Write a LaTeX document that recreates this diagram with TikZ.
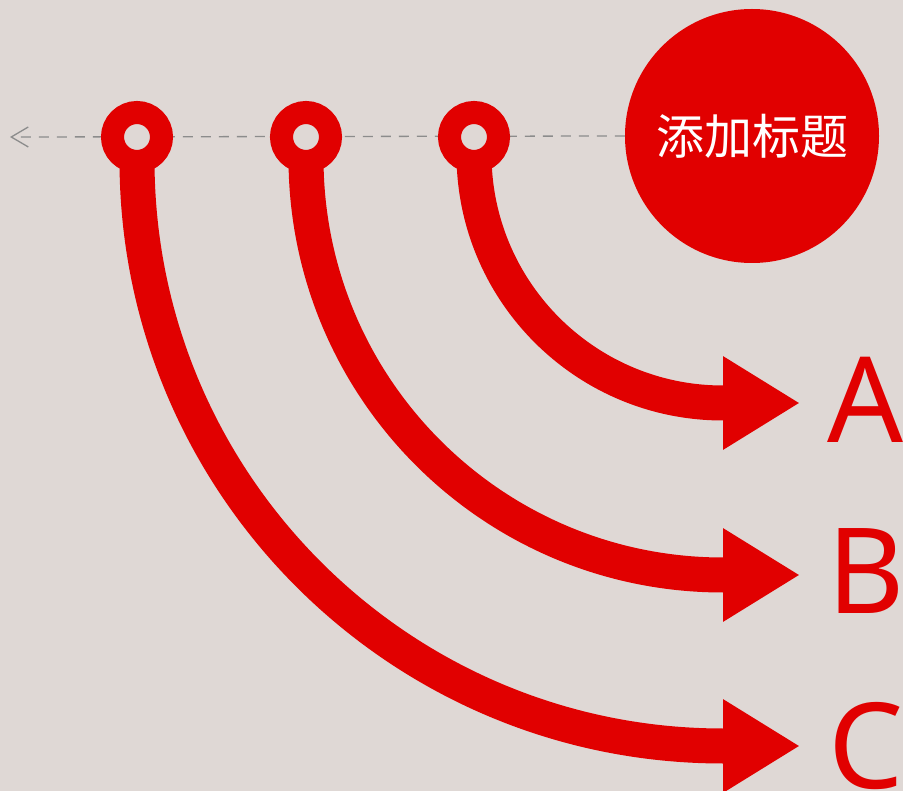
\documentclass[tikz,border=0pt]{standalone}
\usepackage{fontspec}
\newfontfamily\cjkfont{Noto Sans CJK SC}
\newfontfamily\letterfont{Noto Sans}
\usetikzlibrary{arrows.meta}
\definecolor{bgc}{HTML}{DFD8D5}
\definecolor{redc}{HTML}{E10000}
\definecolor{dashc}{HTML}{8C8C8C}
\pgfdeclarelayer{back}
\pgfsetlayers{back,main}
\tikzset{
  ring/.style={circle, draw=redc, line width=23pt, fill=bgc, inner sep=0pt, minimum size=49pt},
  shaft/.style={draw=redc, line width=35pt, -{Triangle[length=77pt,width=88pt]}},
  dashline/.style={draw=dashc, line width=1.3pt, dash pattern=on 10pt off 8pt, -{Straight Barb[length=17pt,width=20pt,line width=1.3pt]}},
  titlecircle/.style={circle, fill=redc, minimum size=254pt, inner sep=0pt, text=white, font=\cjkfont\fontsize{48}{48}\selectfont},
  letter/.style={anchor=base, inner sep=0pt, text=redc, font=\letterfont\fontsize{119}{119}\selectfont}
}
\begin{document}
\begin{tikzpicture}[x=1pt,y=-1pt]
\useasboundingbox (0,0) rectangle (903,791);
% title circle
\node[titlecircle] (title) at (752,136) {添加标题};
% rings
\node[ring] (r1) at (137,137) {};
\node[ring] (r2) at (306,137) {};
\node[ring] (r3) at (474,137) {};
% end coordinates
\coordinate (eA) at (800,403);
\coordinate (eB) at (800,575);
\coordinate (eC) at (800,746);
\coordinate (dashend) at (10,137);
\begin{pgfonlayer}{back}
\fill[bgc] (0,0) rectangle (903,791);
\draw[dashline] (title.west) -- (dashend);
\draw[shaft] (r3.center) -- (474,154) .. controls (474,291.5) and (585.5,403) .. (723,403) -- (eA);
\draw[shaft] (r2.center) -- (306,158) .. controls (306,388.3) and (492.7,575) .. (723,575) -- (eB);
\draw[shaft] (r1.center) -- (137,160) .. controls (137,483.6) and (399.4,746) .. (723,746) -- (eC);
\end{pgfonlayer}
% letters
\node[letter] (la) at (866,443) {A};
\node[letter] (lb) at (866,613) {B};
\node[letter] (lc) at (866,788) {C};
\end{tikzpicture}
\end{document}
